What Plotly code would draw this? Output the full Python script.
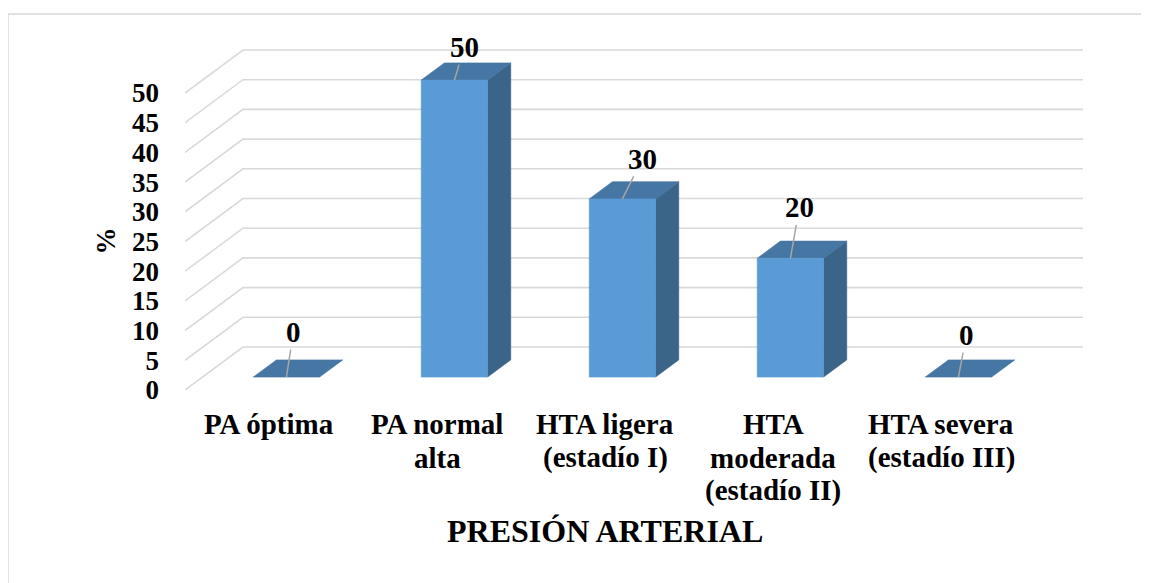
import plotly.graph_objects as go

# ---------------- data ----------------
categories = ["PA óptima", "PA normal alta", "HTA ligera (estadío I)",
              "HTA moderada (estadío II)", "HTA severa (estadío III)"]
tick_labels = ["PA óptima", "PA normal<br>alta", "HTA ligera<br>(estadío I)",
               "HTA<br>moderada<br>(estadío II)", "HTA severa<br>(estadío III)"]
values = [0, 50, 30, 20, 0]
y_ticks = [0, 5, 10, 15, 20, 25, 30, 35, 40, 45, 50]
y_title = "%"
x_title = "PRESIÓN ARTERIAL"

# ---------------- layout geometry (pixels, page coords) ----------------
BODY = 8                      # default page margin of the html body
W_FIG, H_FIG = 1149 - BODY, 583 - BODY
PLOT_L, PLOT_R, PLOT_T, PLOT_B = 185, 1090, 30, 390
PX_PER_CAT = 168.0
PX_PER_UNIT = 5.94
DEPTH_PX_X, DEPTH_PX_Y = 58.0, 43.0
DX = DEPTH_PX_X / PX_PER_CAT          # depth shift in x units
DY = DEPTH_PX_Y / PX_PER_UNIT         # depth shift in value units
D0, D1 = 0.30, 0.70                   # bar depth (front, back)
BAR_W = 0.395

FRONT = "#5B9BD5"
TOP = "#4676A3"
SIDE = "#3B6489"
GRID = "#D9D9D9"
FONT = "Liberation Serif, Times New Roman, serif"

# data-label offsets (pixels, text centre relative to bar top)
label_dx = [7, 10, 20, 9, 8]
label_dy = [-45, -33, -40, -51, -42]
# category label line centres (page y, px)
cat_line_y = [424, 457.5, 491]

n = len(categories)
x_lo = -0.5
x_hi = n - 0.5

fig = go.Figure()

# back wall grid lines with the diagonal floor/side part
for v in y_ticks:
    fig.add_trace(go.Scatter(
        x=[x_lo, x_lo + DX, x_hi + DX], y=[v, v + DY, v + DY],
        mode="lines", line=dict(color=GRID, width=1.6),
        hoverinfo="skip", showlegend=False))


def poly(xs, ys, color):
    fig.add_trace(go.Scatter(
        x=xs + [xs[0]], y=ys + [ys[0]], mode="lines", fill="toself",
        fillcolor=color, line=dict(color=color, width=0.6),
        hoverinfo="skip", showlegend=False))


for i, v in enumerate(values):
    xl = i - BAR_W / 2
    xr = i + BAR_W / 2
    if v > 0:
        poly([xr + D0 * DX, xr + D1 * DX, xr + D1 * DX, xr + D0 * DX],
             [D0 * DY, D1 * DY, v + D1 * DY, v + D0 * DY], SIDE)
    poly([xl + D0 * DX, xr + D0 * DX, xr + D1 * DX, xl + D1 * DX],
         [v + D0 * DY, v + D0 * DY, v + D1 * DY, v + D1 * DY], TOP)
    if v > 0:
        poly([xl + D0 * DX, xr + D0 * DX, xr + D0 * DX, xl + D0 * DX],
             [D0 * DY, D0 * DY, v + D0 * DY, v + D0 * DY], FRONT)

# data labels with leader lines
for i, v in enumerate(values):
    fig.add_annotation(
        x=i + D0 * DX, y=v + D0 * DY, xref="x", yref="y",
        text=str(v), showarrow=True, arrowhead=0, arrowwidth=1.5,
        arrowcolor="#A6A6A6", standoff=0, ax=label_dx[i], ay=label_dy[i],
        font=dict(family=FONT, size=29, color="black", weight="bold"))

pw = PLOT_R - PLOT_L
ph = PLOT_B - PLOT_T


def px_x(px):
    return (px - PLOT_L) / pw


def px_y(py):
    return (PLOT_B - py) / ph


# category labels (one annotation per line for tight line spacing)
for i, lab in enumerate(tick_labels):
    for k, line in enumerate(lab.split("<br>")):
        fig.add_annotation(
            x=i, y=px_y(cat_line_y[k]), xref="x", yref="paper",
            text=line, showarrow=False, xanchor="center", yanchor="middle",
            font=dict(family=FONT, size=29, color="black", weight="bold"))

# axis titles
fig.add_annotation(
    x=px_x(105), y=(y_ticks[0] + y_ticks[-1]) / 2, xref="paper", yref="y",
    text=y_title, textangle=-90, showarrow=False,
    xanchor="center", yanchor="middle",
    font=dict(family=FONT, size=27, color="black", weight="bold"))
fig.add_annotation(
    x=(n - 1) / 2, y=px_y(531), xref="x", yref="paper",
    text=x_title, showarrow=False, xanchor="center", yanchor="middle",
    font=dict(family=FONT, size=32, color="black", weight="bold"))

# chart border
fig.add_shape(type="rect", xref="paper", yref="paper",
              x0=px_x(8), x1=px_x(1170), y0=px_y(600), y1=px_y(14),
              line=dict(color=GRID, width=1.5), layer="below")

tickfont = dict(family=FONT, size=27, color="black", weight="bold")
fig.update_layout(
    width=W_FIG, height=H_FIG,
    margin=dict(l=PLOT_L - BODY, r=1149 - PLOT_R, t=PLOT_T - BODY,
                b=583 - PLOT_B),
    paper_bgcolor="white", plot_bgcolor="white", showlegend=False,
    xaxis=dict(range=[x_lo, x_lo + pw / PX_PER_CAT],
               showticklabels=False,
               showgrid=False, zeroline=False, showline=False, ticks="",
               fixedrange=True, automargin=False),
    yaxis=dict(range=[0, ph / PX_PER_UNIT], tickvals=y_ticks,
               showgrid=False, zeroline=False, showline=False, ticks="",
               tickfont=tickfont, ticklabelstandoff=25, fixedrange=True,
               automargin=False),
)

fig.write_html("out.html")
